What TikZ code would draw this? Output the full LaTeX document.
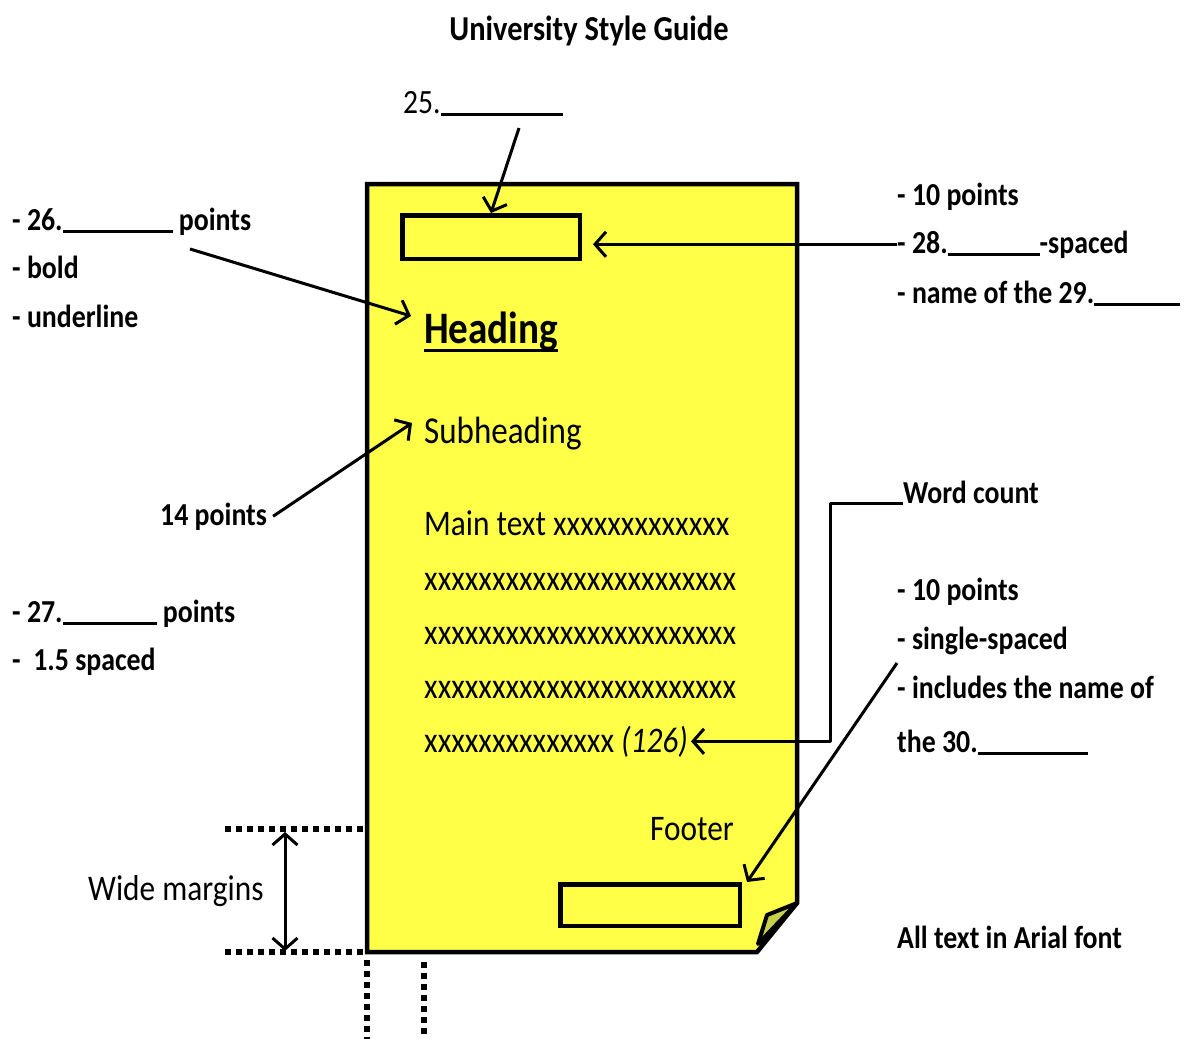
\documentclass[tikz,border=0pt]{standalone}
\usepackage{fontspec}
\setmainfont{Carlito}[FakeStretch=0.87]
\usetikzlibrary{arrows.meta, calc, positioning}
\definecolor{PageYellow}{RGB}{255,255,72}
\definecolor{FoldOlive}{RGB}{198,208,74}
\newcommand{\blankline}[1]{\rule[-3pt]{#1}{2.8pt}}
\tikzset{%
  label_text/.style={%
    anchor=base west,%
    inner sep=0pt,%
    font={\fontsize{32}{32}\selectfont\bfseries},%
  },
  page_text/.style={%
    anchor=base west,%
    inner sep=0pt,%
    font={\fontsize{36}{36}\selectfont},%
  },
  slot_box/.style={%
    rectangle,%
    draw=black,%
    line width=4.5pt,%
    inner sep=0pt,%
  },
  page_edge/.style={%
    draw=black,%
    line width=4.5pt,%
    fill=PageYellow,%
    line join=miter,%
  },
  fold_edge/.style={%
    draw=black,%
    line width=4pt,%
    fill=FoldOlive,%
    line join=round,%
  },
  lead_path/.style={%
    color=black,%
    line width=3pt,%
    line join=round,%
  },
  margin_dots/.style={%
    line width=6pt,%
    dash pattern=on 5.5pt off 5.5pt,%
  },
  arrow/.style={-{Straight Barb[length=11pt, width=25pt]}},
  twin_arrow/.style={{Straight Barb[length=11pt, width=25pt]}-{Straight Barb[length=11pt, width=25pt]}},
}

\begin{document}
\begin{tikzpicture}[x=1pt, y=-1pt]
    \useasboundingbox (0,0) rectangle (1189,1039);

    % the sheet with its folded corner
    \coordinate (pgNW) at (367,184);
    \coordinate (pgNE) at (797,184);
    \coordinate (pgFold) at (797,903);
    \coordinate (pgTip) at (757,952);
    \coordinate (pgSW) at (367,952);
    \draw[page_edge]
      (pgNW) -- (pgNE) -- (pgFold) -- (pgTip) -- (pgSW) -- cycle;
    \draw[fold_edge]
      (767,915) -- (pgFold) -- (758,944) -- cycle;

    \node[anchor=base, inner sep=0pt, font={\fontsize{35}{35}\selectfont\bfseries}]
      (title) at (589,40) {University Style Guide};
    \node[anchor=base west, inner sep=0pt, font={\fontsize{34}{34}\selectfont}]
      (lbl25) at (403,113) {25.\blankline{122pt}};

    \node[slot_box, minimum width=177.5pt, minimum height=43.5pt] (hdr) at (491,237) {};
    \node[slot_box, minimum width=179.5pt, minimum height=41.5pt] (ftr) at (650,905) {};

    % inside the sheet
    \node[anchor=base west, inner sep=0pt, font={\fontsize{45}{45}\selectfont\bfseries}]
      (head) at (424,343) {Heading};
    \draw[line width=3pt]
      ([yshift=-7pt]head.base west) -- ([yshift=-7pt]head.base east);
    \node[anchor=base west, inner sep=0pt, font={\fontsize{38}{38}\selectfont}]
      (sub) at (424,443) {Subheading};
    \node[page_text] (main) at (424,535) {Main text xxxxxxxxxxxxx};
    \foreach \y/\n in {590/xa, 644/xb, 698/xc}
      \node[page_text] (\n) at (424,\y) {xxxxxxxxxxxxxxxxxxxxxxx};
    \node[page_text] (x126) at (424,752) {xxxxxxxxxxxxxx \textit{(126)}};
    \node[page_text] (foot) at (650,840) {Footer};

    % left notes
    \node[label_text] (l26) at (12,230) {- 26.\blankline{110pt} points};
    \node[label_text] (lbold) at (12,278) {- bold};
    \node[label_text] (lul) at (12,327) {- underline};
    \node[label_text] (p14) at (160,525) {14 points};
    \node[label_text] (l27) at (12,622) {- 27.\blankline{94pt} points};
    \node[label_text] (l15) at (12,670) {-\ \ 1.5 spaced};
    \node[page_text] (wide) at (88,900) {Wide margins};

    % right notes
    \node[label_text] (r10) at (897,205) {- 10 points};
    \node[label_text] (r28) at (897,253) {- 28.\blankline{92pt}-spaced};
    \node[label_text] (r29) at (897,303) {- name of the 29.\blankline{86pt}};
    \node[label_text] (wc) at (903,503) {Word count};
    \node[label_text] (r2a) at (897,600) {- 10 points};
    \node[label_text] (r2b) at (897,649) {- single-spaced};
    \node[label_text] (r2c) at (897,698) {- includes the name of};
    \node[label_text] (r2d) at (897,752) {the 30.\blankline{110pt}};
    \node[label_text] (arial) at (897,948) {All text in Arial font};

    % margin guides
    \coordinate (mTopL) at (225,829);
    \coordinate (mTopR) at (363,829);
    \coordinate (mBotL) at (225,952);
    \coordinate (mBotR) at (363,952);
    \coordinate (vLeftB) at (367,1039);
    \coordinate (vTextT) at (424,962);
    \coordinate (vTextB) at (424,1039);
    \draw[margin_dots] (mTopL) -- (mTopR);
    \draw[margin_dots] (mBotL) -- (mBotR);
    \draw[margin_dots] ([yshift=-8pt]pgSW) -- (vLeftB);
    \draw[margin_dots] (vTextT) -- (vTextB);

    \draw[lead_path, arrow]
      ([xshift=116pt, yshift=-15pt]lbl25.base west)
      --
      (hdr.north);
    \draw[lead_path, arrow]
      (r28.west)
      --
      ($(r28.west -| hdr.east)+(11,0)$);
    \draw[lead_path, arrow]
      ([xshift=178pt, yshift=-19pt]l26.base west)
      --
      ([xshift=-13pt, yshift=27pt]head.base west);
    \draw[lead_path, arrow]
      ([xshift=6pt]p14.east)
      --
      ([xshift=-12pt, yshift=20pt]sub.base west);
    \draw[lead_path, arrow]
      (wc.base west)
      --
      ([xshift=-73pt]wc.base west)
      |-
      ([xshift=3pt]x126.east);
    \draw[lead_path, arrow]
      ([yshift=-14pt]r2b.base west)
      --
      ([xshift=5pt]ftr.north east);
    \draw[lead_path, twin_arrow]
      ([xshift=-78pt, yshift=-3pt]mTopR)
      --
      ([xshift=-78pt, yshift=1pt]mBotR);

  \end{tikzpicture}
\end{document}
